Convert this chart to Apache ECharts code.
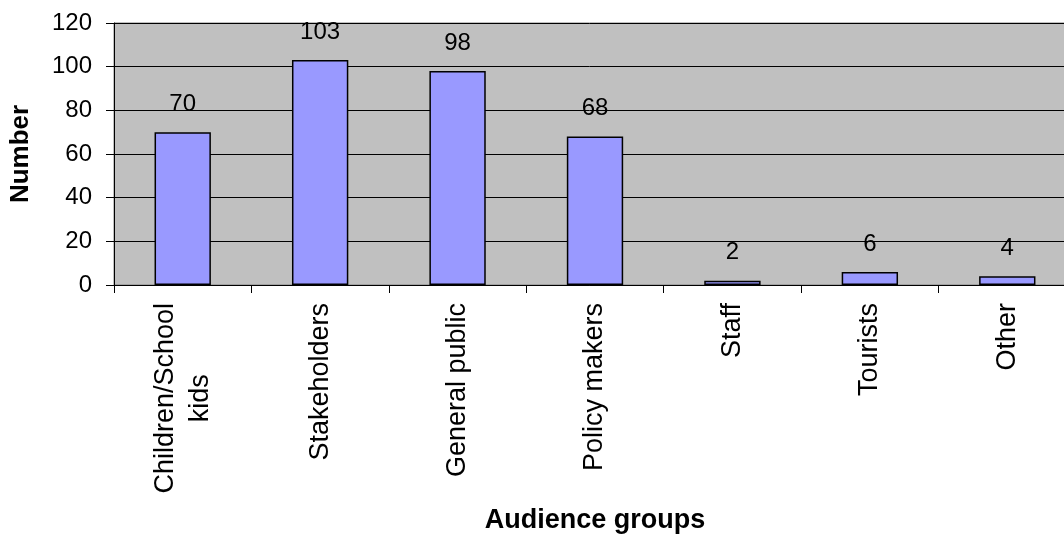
<!DOCTYPE html>
<html>
<head>
<meta charset="utf-8">
<script src="https://cdn.jsdelivr.net/npm/echarts@6/dist/echarts.min.js"></script>
<style>
html,body{margin:0;padding:0;background:#fff;}
#chart{width:1064px;height:535px;}
</style>
</head>
<body>
<div id="chart"></div>
<script>
const categories = ['Children/School\nkids', 'Stakeholders', 'General public', 'Policy makers', 'Staff', 'Tourists', 'Other'];
const values = [70, 103, 98, 68, 2, 6, 4];
const yTicks = [0, 20, 40, 60, 80, 100, 120];

const chart = echarts.init(document.getElementById('chart'), null, {renderer: 'canvas'});
const font = '"Liberation Sans", Arial, sans-serif';
chart.setOption({
  animation: false,
  backgroundColor: '#ffffff',
  grid: {
    left: 114, top: 23, width: 962, height: 262,
    show: true, backgroundColor: '#c0c0c0', borderColor: '#808080', borderWidth: 1,
    containLabel: false,
    outerBoundsMode: 'none'
  },
  xAxis: {
    type: 'category',
    data: categories,
    name: 'Audience groups',
    nameLocation: 'middle',
    nameGap: 222,
    nameTextStyle: {fontFamily: font, fontSize: 27, fontWeight: 'bold', color: '#000'},
    axisLine: {show: true, lineStyle: {color: '#000', width: 1}},
    axisTick: {show: true, length: 8, lineStyle: {color: '#000'}},
    axisLabel: {
      rotate: 90, margin: 18, interval: 0,
      fontFamily: font, fontSize: 27, color: '#000',
      formatter: function (v) { return v.split('\n').map(function (s) { return '{c|' + s + '}'; }).join('\n'); },
      rich: {c: {align: 'center', fontFamily: font, fontSize: 27, color: '#000', lineHeight: 35}}
    },
    splitLine: {show: false}
  },
  yAxis: {
    type: 'value',
    min: 0, max: 120, interval: 20,
    name: 'Number',
    nameLocation: 'middle',
    nameGap: 80,
    nameTextStyle: {fontFamily: font, fontSize: 26, fontWeight: 'bold', color: '#000'},
    axisLine: {show: true, lineStyle: {color: '#000', width: 1}},
    axisTick: {show: true, length: 8, lineStyle: {color: '#000'}},
    axisLabel: {
      margin: 22, fontFamily: font, fontSize: 24, color: '#000',
      formatter: function (v) { return yTicks.indexOf(v) >= 0 ? String(v) : ''; }
    },
    splitLine: {show: true, lineStyle: {color: '#000', width: 1}}
  },
  series: [{
    type: 'bar',
    data: values,
    barCategoryGap: '59%',
    itemStyle: {color: '#9999ff', borderColor: '#000', borderWidth: 1.5},
    label: {
      show: true, position: 'top', distance: 16,
      fontFamily: font, fontSize: 24, color: '#000'
    }
  }]
});
</script>
</body>
</html>
